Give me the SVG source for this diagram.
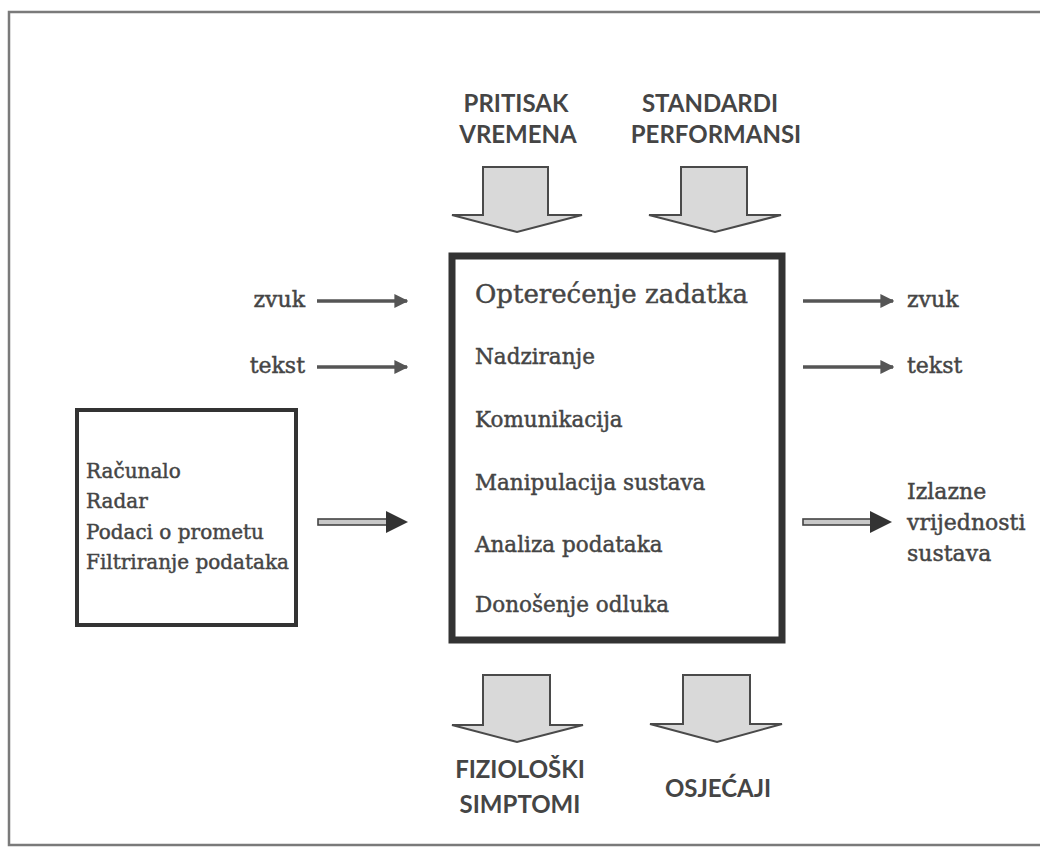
<svg xmlns="http://www.w3.org/2000/svg" width="1040" height="848" viewBox="0 0 1040 848">
<defs>
<style>
.serif{font-family:"DejaVu Serif","Liberation Serif",serif;fill:#454545;stroke:#454545;stroke-width:0.45}
.sans{font-family:Lato,"Liberation Sans",sans-serif;fill:#454545;font-size:24px;font-weight:bold;text-anchor:middle}
.block{fill:#d9d9d9;stroke:#4a4a4a;stroke-width:2;stroke-linejoin:miter}
.thin{stroke:#555;stroke-width:3.5;fill:none}
.dbl{fill:#c8c8c8;stroke:#444;stroke-width:1.6}
</style>
<marker id="ah" viewBox="0 0 10 10" refX="9" refY="5" markerWidth="4" markerHeight="4" orient="auto" markerUnits="strokeWidth">
<path d="M0,0 L10,5 L0,10 z" fill="#555"/>
</marker>
</defs>
<rect x="0" y="0" width="1040" height="848" fill="#fff"/>
<rect id="frame" x="9" y="12" width="1040" height="833" fill="none" stroke="#7a7a7a" stroke-width="2.5"/>

<g id="pritisak">
<text class="sans" x="516" y="112">PRITISAK</text>
<text class="sans" x="518" y="143">VREMENA</text>
<polygon class="block" points="483,167 548,167 548,215 582,215 517,232 452,215 483,215"/>
</g>
<g id="standardi">
<text class="sans" x="710" y="112">STANDARDI</text>
<text class="sans" x="716" y="143">PERFORMANSI</text>
<polygon class="block" points="681,167 747,167 747,215 781,215 715,232 649,215 681,215"/>
</g>

<g id="main">
<rect x="452" y="256" width="330" height="384" fill="#fff" stroke="#333" stroke-width="7"/>
<text class="serif" x="475" y="303" font-size="26">Opterećenje zadatka</text>
<text class="serif" x="475" y="364" font-size="21.5">Nadziranje</text>
<text class="serif" x="475" y="427" font-size="21.5">Komunikacija</text>
<text class="serif" x="475" y="490" font-size="21.5">Manipulacija sustava</text>
<text class="serif" x="475" y="552" font-size="21.5">Analiza podataka</text>
<text class="serif" x="475" y="612" font-size="21.5">Donošenje odluka</text>
</g>

<g id="sources">
<rect x="77" y="410" width="219" height="215" fill="#fff" stroke="#333" stroke-width="4"/>
<text class="serif" x="86" y="478" font-size="20">Računalo</text>
<text class="serif" x="86" y="508" font-size="20">Radar</text>
<text class="serif" x="86" y="539" font-size="20">Podaci o prometu</text>
<text class="serif" x="86" y="569" font-size="20">Filtriranje podataka</text>
</g>

<g id="in-labels">
<text class="serif" x="305" y="307" font-size="22" text-anchor="end">zvuk</text>
<text class="serif" x="305" y="373" font-size="22" text-anchor="end">tekst</text>
</g>
<g id="out-labels">
<text class="serif" x="907" y="307" font-size="22">zvuk</text>
<text class="serif" x="907" y="373" font-size="22">tekst</text>
<text class="serif" x="907" y="499" font-size="22">Izlazne</text>
<text class="serif" x="907" y="530" font-size="22">vrijednosti</text>
<text class="serif" x="907" y="561" font-size="22">sustava</text>
</g>

<g id="fizioloski">
<polygon class="block" points="483,675 550,675 550,725 583,725 517,742 452,725 483,725"/>
<text class="sans" x="520" y="778">FIZIOLOŠKI</text>
<text class="sans" x="520" y="813">SIMPTOMI</text>
</g>
<g id="osjecaji">
<polygon class="block" points="683,675 750,675 750,724 782,724 717,742 650,724 683,724"/>
<text class="sans" x="718" y="797">OSJEĆAJI</text>
</g>

<g id="connectors">
<line class="thin" x1="317" y1="301" x2="407" y2="301" marker-end="url(#ah)"/>
<line class="thin" x1="317" y1="367" x2="407" y2="367" marker-end="url(#ah)"/>
<line class="thin" x1="803" y1="301" x2="893" y2="301" marker-end="url(#ah)"/>
<line class="thin" x1="803" y1="367" x2="893" y2="367" marker-end="url(#ah)"/>
<rect class="dbl" x="318" y="519" width="70" height="6"/>
<polygon points="386,511 408,522 386,533" fill="#333"/>
<rect class="dbl" x="803" y="519" width="69" height="6"/>
<polygon points="870,511 892,522 870,533" fill="#333"/>
</g>
</svg>
